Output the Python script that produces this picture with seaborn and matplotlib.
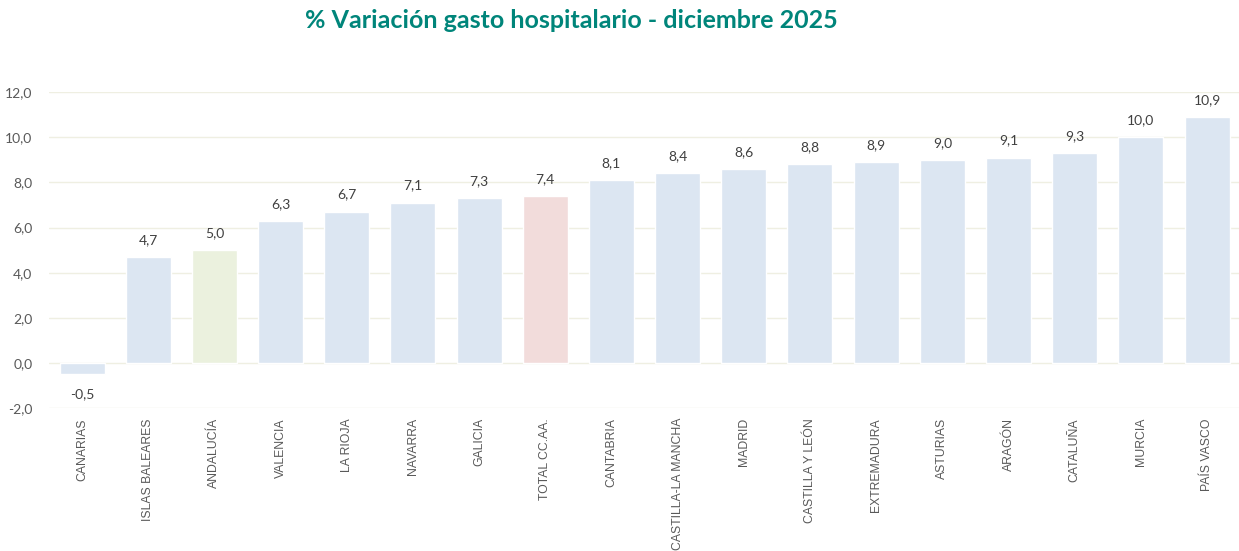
import pandas as pd
import matplotlib.pyplot as plt
import seaborn as sns
from matplotlib.ticker import FuncFormatter

# Data
regiones = ['CANARIAS', 'ISLAS BALEARES', 'ANDALUCÍA', 'VALENCIA', 'LA RIOJA',
            'NAVARRA', 'GALICIA', 'TOTAL CC.AA.', 'CANTABRIA', 'CASTILLA-LA MANCHA',
            'MADRID', 'CASTILLA Y LEÓN', 'EXTREMADURA', 'ASTURIAS', 'ARAGÓN',
            'CATALUÑA', 'MURCIA', 'PAÍS VASCO']
variacion = [-0.5, 4.7, 5.0, 6.3, 6.7, 7.1, 7.3, 7.4, 8.1, 8.4,
             8.6, 8.8, 8.9, 9.0, 9.1, 9.3, 10.0, 10.9]
yticks = [-2, 0, 2, 4, 6, 8, 10, 12]

azul = '#dce6f2'
verde = '#ebf1de'
rosa = '#f2dcdb'
colores = {r: azul for r in regiones}
colores['ANDALUCÍA'] = verde
colores['TOTAL CC.AA.'] = rosa

df = pd.DataFrame({'region': regiones, 'valor': variacion})

sns.set_style('white')
plt.rcParams['font.family'] = ['Lato', 'DejaVu Sans']

fig = plt.figure(figsize=(12.39, 5.51), dpi=100)
ax = fig.add_axes([0.0395, 0.259, 0.9614, 0.574])

sns.barplot(data=df, x='region', y='valor', hue='region', palette=colores,
            legend=False, width=0.68, ax=ax, saturation=1)

ax.set_ylim(-2, 12)
ax.set_yticks(yticks)
ax.yaxis.set_major_formatter(FuncFormatter(lambda v, p: f'{v:.1f}'.replace('.', ',')))
ax.grid(axis='y', color='#efefe2', linewidth=1)
ax.set_axisbelow(True)
for s in ax.spines.values():
    s.set_visible(False)
ax.set_xlabel('')
ax.set_ylabel('')
ax.tick_params(axis='y', labelsize=10, colors='#595959', length=0, pad=12)
ax.tick_params(axis='x', length=0, pad=7)
ax.set_xticks(range(len(regiones)))
ax.set_xticklabels(regiones, rotation=90, fontsize=8.8, color='#595959',
                   family=['Liberation Sans', 'DejaVu Sans'])
ax.set_xlim(-0.5, len(regiones) - 0.5)

# value labels
for i, v in enumerate(variacion):
    txt = f'{v:.1f}'.replace('.', ',')
    if v >= 0:
        ax.annotate(txt, (i, v), xytext=(0, 8), textcoords='offset points',
                    ha='center', va='bottom', fontsize=10, color='#404040')
    else:
        ax.annotate(txt, (i, v), xytext=(0, -10), textcoords='offset points',
                    ha='center', va='top', fontsize=10, color='#404040')

fig.text(0.461, 0.962, '% Variación gasto hospitalario - diciembre 2025',
         ha='center', va='center', fontsize=18, fontweight='bold', color='#00857a')

plt.savefig('out.png', dpi=100)
